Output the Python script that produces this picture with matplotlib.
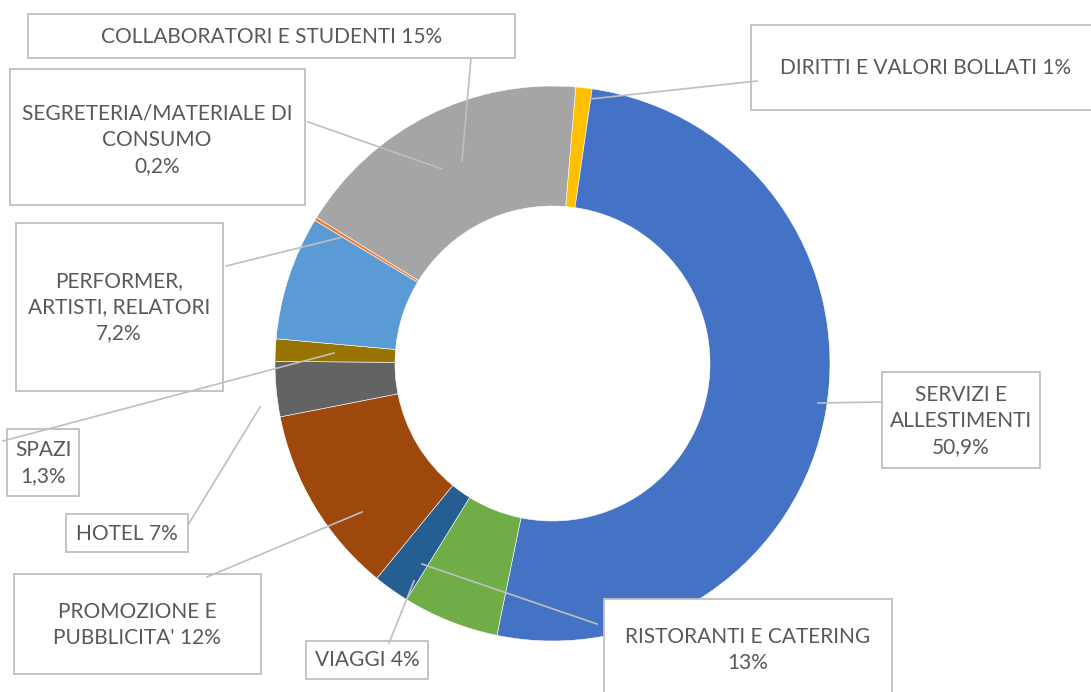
import matplotlib.pyplot as plt
from matplotlib.patches import Rectangle

# slices, clockwise from the yellow one near 12 o'clock (share of the ring, %)
categories = ['DIRITTI E VALORI BOLLATI', 'SERVIZI E ALLESTIMENTI', 'RISTORANTI E CATERING',
              'VIAGGI', "PROMOZIONE E PUBBLICITA'", 'HOTEL', 'SPAZI',
              'PERFORMER, ARTISTI, RELATORI', 'SEGRETERIA/MATERIALE DI CONSUMO',
              'COLLABORATORI E STUDENTI']
values = [0.95, 50.9, 5.6, 2.1, 11.0, 3.2, 1.3, 7.2, 0.2, 17.5]
colors = ['#FFC000', '#4472C4', '#70AD47', '#255E91', '#9E480E', '#636363',
          '#997300', '#5B9BD5', '#ED7D31', '#A5A5A5']

# label text as printed in the boxes
label_text = ['DIRITTI E VALORI BOLLATI 1%', 'SERVIZI E\nALLESTIMENTI\n50,9%',
              'RISTORANTI E CATERING\n13%', 'VIAGGI 4%', "PROMOZIONE E\nPUBBLICITA' 12%",
              'HOTEL 7%', 'SPAZI\n1,3%', 'PERFORMER,\nARTISTI, RELATORI\n7,2%',
              'SEGRETERIA/MATERIALE DI\nCONSUMO\n0,2%', 'COLLABORATORI E STUDENTI 15%']

plt.rcParams['font.family'] = ['Lato', 'DejaVu Sans']

fig = plt.figure(figsize=(10.91, 6.92), dpi=100)
ax = fig.add_axes([0, 0, 1, 1])

# pixel space, y going down
cx, cy, r_out, r_in = 552.5, 363.5, 277.5, 157.5
ax.pie(values, colors=colors, center=(cx, cy), radius=r_out,
       startangle=274.8, counterclock=True,
       wedgeprops=dict(width=r_out - r_in, edgecolor='white', linewidth=0.4))
ax.set_xlim(0, 1091)
ax.set_ylim(692, 0)
ax.set_aspect('equal')
ax.axis('off')

# box (x0, y0, x1, y1), text centre, leader (from, to)
boxes = [
    ((751, 25, 1100, 110), (926, 68), ((757, 81), (590, 99))),
    ((882, 372, 1040, 468), (961, 421), ((881, 402), (818, 403))),
    ((604, 599, 892, 700), (748, 650), ((597, 624), (422, 564))),
    ((306, 641, 428, 679), (367, 660), ((389, 643), (414, 581))),
    ((14, 574, 261, 674), (137, 625), ((207, 577), (362, 512))),
    ((66, 514, 188, 552), (127, 534), ((188, 525), (260, 407))),
    ((7, 429, 79, 496), (43, 463), ((3, 441), (334, 353))),
    ((16, 223, 223, 391), (119, 307), ((226, 266), (343, 237))),
    ((10, 69, 305, 205), (157, 140), ((308, 122), (442, 169))),
    ((28, 14, 515, 58), (272, 37), ((471, 58), (462, 161))),
]

line_col = '#BFBFBF'
for txt, (b, tc, (p0, p1)) in zip(label_text, boxes):
    x0, y0, x1, y1 = b
    ax.add_patch(Rectangle((x0, y0), x1 - x0, y1 - y0, facecolor='white',
                           edgecolor=line_col, linewidth=1.3, zorder=3))
    ax.plot([p0[0], p1[0]], [p0[1], p1[1]], color=line_col, linewidth=1.2, zorder=4)
    ax.text(tc[0], tc[1], txt, ha='center', va='center', fontsize=15,
            color='#595959', linespacing=1.38, zorder=5)

plt.savefig('out.png', dpi=100)
